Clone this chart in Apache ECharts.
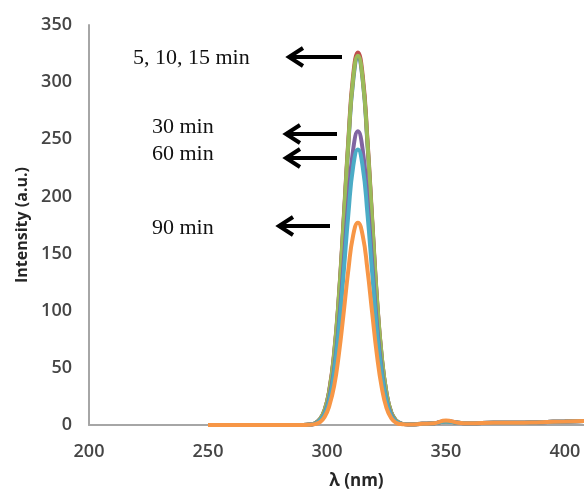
<!DOCTYPE html>
<html>
<head>
<meta charset="utf-8">
<script src="https://cdn.jsdelivr.net/npm/echarts@6/dist/echarts.min.js"></script>
<style>
  html, body { margin: 0; padding: 0; background: #fff; }
  #chart { width: 584px; height: 495px; }
</style>
</head>
<body>
<div id="chart"></div>
<script>
// wavelength (nm), shared by every series
const wavelength = [250, 260, 270, 280, 290, 293, 295, 297, 299, 301, 303, 305, 307, 309, 311, 313, 315, 317, 319, 321, 323, 325, 327, 329, 331, 333, 335, 340, 345, 350, 355, 360, 370, 380, 390, 400, 408]

// intensity (a.u.)
const min5 = [0, 0, 0, 0, 0, 0.5, 1.5, 5, 13, 30, 61, 111, 177, 246, 301, 321, 302, 246, 177, 109, 59, 28, 11, 4, 1.5, 0.8, 0.6, 1, 1.5, 3, 2, 1.5, 2, 2, 2.5, 3, 3.5]
const min10 = [0, 0, 0, 0, 0, 0.5, 1.5, 5, 13, 31, 63, 113, 180, 250, 306, 326, 306, 250, 180, 111, 60, 28, 11, 4, 1.5, 0.8, 0.6, 1, 1.5, 3, 2, 1.5, 2, 2, 2.5, 3, 3.5]
const min15 = [0, 0, 0, 0, 0, 0.5, 1.5, 5, 13, 30, 62, 112, 178, 248, 303, 323, 303, 248, 178, 110, 60, 28, 11, 4, 1.5, 0.8, 0.6, 1, 1.5, 3, 2, 1.5, 2, 2, 2.5, 3, 3.5]
const min30 = [0, 0, 0, 0, 0, 0.4, 1.2, 4, 10, 24, 49, 89, 142, 197, 241, 257, 241, 197, 142, 88, 48, 22, 9, 3, 1.2, 0.7, 0.5, 1, 1.5, 3.5, 2, 1.5, 2, 2, 2.5, 3, 3.5]
const min60 = [0, 0, 0, 0, 0, 0.4, 1.1, 4, 9.5, 22, 46, 84, 133, 185, 226, 241, 226, 185, 133, 82, 45, 21, 8, 3, 1.1, 0.7, 0.5, 1, 1.5, 3, 2, 1.5, 2, 2, 2.5, 3, 3.5]
const min90 = [0, 0, 0, 0, 0, 0.3, 0.8, 2.5, 7, 17, 34, 62, 98, 136, 166, 177, 166, 136, 98, 61, 33, 15, 6, 2, 0.8, 0.5, 0.4, 1, 1.5, 4, 2, 1.5, 2, 2, 2.5, 3, 3.5]

const seriesNames = ['5 min', '10 min', '15 min', '30 min', '60 min', '90 min']
const seriesValues = [min5, min10, min15, min30, min60, min90]
const seriesColors = ['#4F81BD', '#C0504D', '#9BBB59', '#8064A2', '#4BACC6', '#F79646']

// annotation texts and the arrows that point at the peaks
const notes = [
  { text: '5, 10, 15 min', x: 133, y: 60, tip: 289, tail: 342, ay: 57 },
  { text: '30 min', x: 152, y: 129, tip: 286, tail: 337, ay: 134 },
  { text: '60 min', x: 152, y: 156, tip: 286, tail: 337, ay: 158 },
  { text: '90 min', x: 152, y: 230, tip: 279, tail: 330, ay: 226 }
]

const labelFont = '"Open Sans", Lato, sans-serif'

const graphics = []
notes.forEach(n => {
  graphics.push({
    type: 'text', left: n.x, top: n.y - 13,
    style: { text: n.text, font: '22px "Liberation Serif", "Times New Roman", serif', fill: '#111' }
  })
  graphics.push({
    type: 'polyline',
    shape: { points: [[n.tail, n.ay], [n.tip + 2, n.ay]] },
    style: { stroke: '#000', lineWidth: 4 }
  })
  graphics.push({
    type: 'polyline',
    shape: { points: [[n.tip + 14, n.ay - 9], [n.tip, n.ay], [n.tip + 14, n.ay + 9]] },
    style: { stroke: '#000', lineWidth: 4, fill: null, lineJoin: 'miter' }
  })
})

const chart = echarts.init(document.getElementById('chart'))
chart.setOption({
  animation: false,
  backgroundColor: '#fff',
  grid: { left: 89, right: 0, top: 25, bottom: 70 },
  xAxis: {
    type: 'value',
    min: 200,
    max: 408,
    interval: 50,
    name: 'λ (nm)',
    nameLocation: 'middle',
    nameGap: 48,
    nameTextStyle: { fontFamily: labelFont, fontWeight: 'bold', fontSize: 17, color: '#262626', padding: [0, 0, 0, 40] },
    axisLine: { lineStyle: { color: '#A6A6A6', width: 2 } },
    axisTick: { show: false },
    splitLine: { show: false },
    axisLabel: {
      margin: 18, fontFamily: labelFont, fontWeight: 600, fontSize: 18, color: '#454545',
      showMaxLabel: false
    }
  },
  yAxis: {
    type: 'value',
    min: 0,
    max: 350,
    interval: 50,
    name: 'Intensity (a.u.)',
    nameLocation: 'middle',
    nameGap: 57,
    nameTextStyle: { fontFamily: labelFont, fontWeight: 'bold', fontSize: 16, color: '#262626' },
    axisLine: { show: true, lineStyle: { color: '#A6A6A6', width: 2 } },
    axisTick: { show: false },
    splitLine: { show: false },
    axisLabel: { margin: 17, fontFamily: labelFont, fontWeight: 600, fontSize: 18, color: '#454545' }
  },
  series: seriesNames.map((name, i) => ({
    name: name,
    type: 'line',
    smooth: true,
    symbol: 'none',
    lineStyle: { width: 4, color: seriesColors[i] },
    itemStyle: { color: seriesColors[i] },
    data: wavelength.map((w, j) => [w, seriesValues[i][j]])
  })),
  graphic: graphics
})
</script>
</body>
</html>
